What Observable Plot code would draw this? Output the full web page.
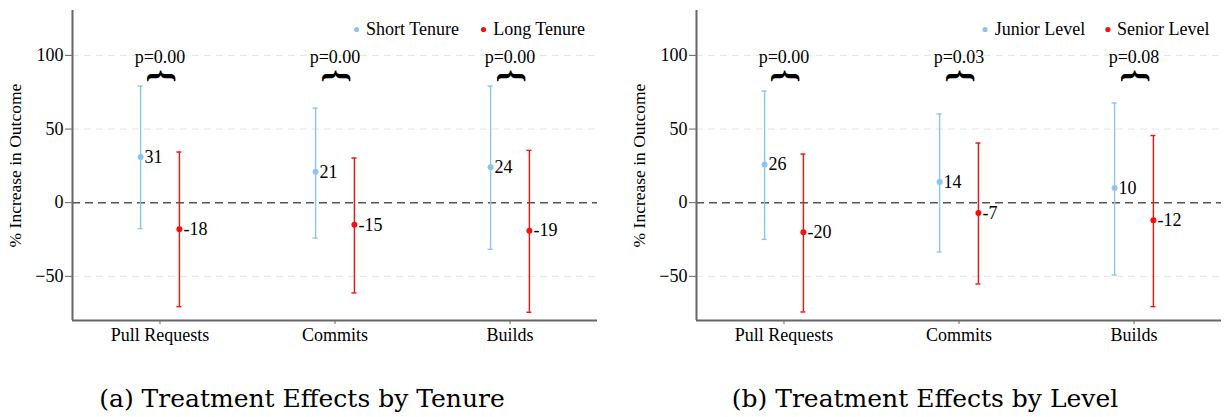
<!DOCTYPE html>
<html><head><meta charset="utf-8">
<script src="https://cdn.jsdelivr.net/npm/d3@7"></script>
<script src="https://cdn.jsdelivr.net/npm/@observablehq/plot@0.6"></script>
<style>
body{margin:0;background:#fff;}
#wrap{position:relative;width:1225px;height:417px;overflow:hidden;background:#fff;}
.panel{position:absolute;top:0;}
.panel svg{overflow:visible;font-family:"Liberation Serif","Times New Roman",serif !important;}
.panel g[aria-label="y-axis tick"], .panel g[aria-label="x-axis tick"]{stroke:#666;}
.panel g[aria-label="y-axis tick label"], .panel g[aria-label="x-axis tick label"]{fill:#000;font-size:18px;}
#caps{position:absolute;left:0;top:0;}
</style></head><body><div id="wrap"></div>
<script>
// ---- data ----
const outcomes = ["Pull Requests", "Commits", "Builds"];
const yTicks = [-50, 0, 50, 100];
const yTitle = "% Increase in Outcome";

const tenureSeries = ["Short Tenure", "Long Tenure"];
const shortTenureEst = [31, 21, 24];
const shortTenureLo  = [-17.6, -24, -31.7];
const shortTenureHi  = [79.2, 64.2, 79.2];
const longTenureEst  = [-18, -15, -19];
const longTenureLo   = [-70.6, -61.3, -74.4];
const longTenureHi   = [34.4, 30.3, 35.5];
const tenurePValues  = ["p=0.00", "p=0.00", "p=0.00"];

const levelSeries = ["Junior Level", "Senior Level"];
const juniorEst = [26, 14, 10];
const juniorLo  = [-24.9, -33.5, -49.1];
const juniorHi  = [75.8, 60.2, 67.7];
const seniorEst = [-20, -7, -12];
const seniorLo  = [-74.2, -55.2, -70.6];
const seniorHi  = [33.0, 40.5, 45.6];
const levelPValues = ["p=0.00", "p=0.03", "p=0.08"];

const captions = ["(a) Treatment Effects by Tenure", "(b) Treatment Effects by Level"];

// ---- styles ----
const colors = ["#8ec4ea", "#f51010"];
const serif = "Liberation Serif, Times New Roman, serif";
const yDomain = [-80, 130.5];
const dodge = [-19.4, 19.4];

function rowsOf(est, lo, hi) {
  return outcomes.map((o, i) => ({outcome: o, est: est[i], lo: lo[i], hi: hi[i]}));
}

function panel({series, groups, pvals, left, width, marginLeft, marginRight, legendDx}) {
  const plotW = width - marginLeft - marginRight;
  const bw = plotW / outcomes.length;
  const marks = [
    Plot.ruleY([-50, 50, 100], {stroke: "#e4e4e4", strokeDasharray: "7,5", strokeWidth: 1}),
    Plot.ruleY([0], {stroke: "#555", strokeDasharray: "8,5", strokeWidth: 1.6}),
    Plot.ruleY([yDomain[0]], {stroke: "#666", strokeWidth: 2}),
    Plot.ruleX([outcomes[0]], {dx: -bw / 2, stroke: "#666", strokeWidth: 2})
  ];
  groups.forEach((rows, s) => {
    const c = colors[s], off = dodge[s];
    marks.push(
      Plot.ruleX(rows, {x: "outcome", y1: "lo", y2: "hi", dx: off, stroke: c, strokeWidth: 1.4}),
      Plot.tickY(rows, {x: "outcome", y: "lo", dx: off, insetLeft: bw / 2 - 2.5, insetRight: bw / 2 - 2.5, stroke: c, strokeWidth: 1.4}),
      Plot.tickY(rows, {x: "outcome", y: "hi", dx: off, insetLeft: bw / 2 - 2.5, insetRight: bw / 2 - 2.5, stroke: c, strokeWidth: 1.4}),
      Plot.dot(rows, {x: "outcome", y: "est", dx: off, r: 3, fill: c, stroke: "none"}),
      Plot.text(rows, {x: "outcome", y: "est", dx: off + 4, text: d => String(d.est), textAnchor: "start", lineAnchor: "middle", fontSize: 18, fontFamily: serif, fill: "#000"}),
      Plot.dot([series[s]], {frameAnchor: "top-right", dx: legendDx[s][0], dy: 19, r: 2.6, fill: c, stroke: "none"}),
      Plot.text([series[s]], {frameAnchor: "top-right", dx: legendDx[s][1], dy: 19, text: d => d, textAnchor: "start", lineAnchor: "middle", fontSize: 18, fontFamily: serif, fill: "#000"})
    );
  });
  marks.push(
    Plot.text(outcomes, {x: d => d, y: () => 99, text: (d, i) => pvals[i], lineAnchor: "middle", fontSize: 18, fontFamily: serif, fill: "#000"}),
    Plot.text(outcomes, {x: d => d, y: () => 86, text: () => "}", rotate: -90, lineAnchor: "middle", fontSize: 33, fontWeight: "bold", fontFamily: serif, fill: "#000"}),
    Plot.text([yTitle], {frameAnchor: "left", dx: -56.7, rotate: -90, text: d => d, textAnchor: "middle", lineAnchor: "middle", fontSize: 17.5, fontFamily: serif, fill: "#000"})
  );
  const svg = Plot.plot({
    width, height: 350,
    marginLeft, marginRight, marginTop: 10, marginBottom: 30,
    style: {fontFamily: serif, fontSize: "18px", background: "transparent"},
    x: {domain: outcomes, padding: 0, label: null, tickSize: 4, tickPadding: 4},
    y: {domain: yDomain, ticks: yTicks, tickSize: 7, tickPadding: 2, label: null},
    marks
  });
  const div = document.createElement("div");
  div.className = "panel";
  div.style.left = left + "px";
  div.appendChild(svg);
  document.getElementById("wrap").appendChild(div);
}

panel({
  series: tenureSeries,
  groups: [rowsOf(shortTenureEst, shortTenureLo, shortTenureHi), rowsOf(longTenureEst, longTenureLo, longTenureHi)],
  pvals: tenurePValues,
  left: 0, width: 612, marginLeft: 72, marginRight: 15,
  legendDx: [[-241, -231.5], [-114, -104.3]]
});
panel({
  series: levelSeries,
  groups: [rowsOf(juniorEst, juniorLo, juniorHi), rowsOf(seniorEst, seniorLo, seniorHi)],
  pvals: levelPValues,
  left: 612, width: 613, marginLeft: 84, marginRight: 4,
  legendDx: [[-236.5, -226.7], [-113.6, -104.5]]
});

// captions
const capSvg = d3.select("#wrap").append("svg").attr("id", "caps").attr("width", 1225).attr("height", 417);
capSvg.selectAll("text").data(captions).join("text")
  .attr("x", (d, i) => [302, 925][i])
  .attr("y", 407)
  .attr("text-anchor", "middle")
  .attr("font-family", "DejaVu Serif, serif")
  .attr("font-size", 25)
  .attr("fill", "#000")
  .text(d => d);
</script>
</body></html>
